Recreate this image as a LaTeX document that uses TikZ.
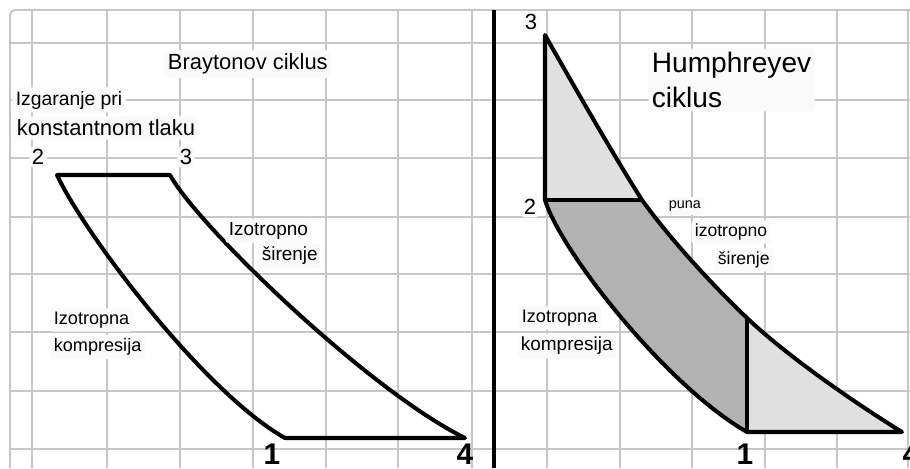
\documentclass[tikz,border=0pt]{standalone}
\usepackage{fontspec}
\setmainfont{Liberation Sans}
\begin{document}
\begin{tikzpicture}[x=0.02cm, y=-0.02cm,
    grid/.style={black!22, line width=1.1pt},
    cyc/.style={black, line width=2.3pt, line join=round},
    lightfill/.style={fill=black!12},
    darkfill/.style={fill=black!30},
    lbl/.style={fill=black!2, rounded corners=2pt, inner sep=2pt, anchor=west},
    pnum/.style={fill=black!2, rounded corners=2pt, inner sep=1.5pt, font=\fontsize{12.5}{14}\selectfont},
    bnum/.style={font=\fontsize{17}{20}\selectfont\bfseries}]
    % --- 画布 ---
    \clip (0,0) rectangle (910,468);

    % --- 网格 ---
    \draw[grid, rounded corners=3pt] (10,468) -- (10,10) -- (910,10);
    \foreach \gx in {32,107,180,253,326,398,472,547,620,692,765,837,908}
        \draw[grid] (\gx,10) -- (\gx,468);
    \foreach \gy in {43,100,158,217,274,332,391,449}
        \draw[grid] (10,\gy) -- (910,\gy);
    % 两图之间的分隔线
    \draw[black, line width=2.4pt] (494,10) -- (494,468);

    % --- Braytonov ciklus ---
    \coordinate (B1) at (285,438);
    \coordinate (B2) at (57,175);
    \coordinate (B3) at (170,175);
    \coordinate (B4) at (465,438);
    \draw[cyc] (B2) -- (B3) .. controls (198,226) and (368,390) .. (B4)
        -- (B1) .. controls (205,393) and (85,235) .. (B2) -- cycle;

    \node[lbl, font=\fontsize{12.5}{15}\selectfont] (brayton) at (164,64) {Braytonov ciklus};
    \node[lbl, font=\fontsize{11}{13}\selectfont] (izgar) at (12,100) {Izgaranje pri};
    \node[lbl, font=\fontsize{12.5}{15}\selectfont] (konst) at (13,128) {konstantnom tlaku};
    \node[pnum] (nB2) at (38,157) {2};
    \node[pnum] (nB3) at (186,157) {3};
    \node[lbl, font=\fontsize{10.8}{13}\selectfont] (izotL) at (225,231) {Izotropno};
    \node[lbl, font=\fontsize{10.8}{13}\selectfont] (sirL) at (258,256) {širenje};
    \node[lbl, font=\fontsize{10.3}{12}\selectfont] (izotpL) at (50,320) {Izotropna};
    \node[lbl, font=\fontsize{10.3}{12}\selectfont] (kompL) at (50,347) {kompresija};
    \node[bnum] (nB1) at (272,454) {1};
    \node[bnum] (nB4) at (465,454) {4};

    % --- Humphreyev ciklus ---
    \coordinate (H1) at (747,432);
    \coordinate (H2) at (545,200);
    \coordinate (H3) at (545,35);
    \coordinate (H4) at (902,432);
    \coordinate (Ha) at (642,200); % 2 的水平线与膨胀线交点
    \coordinate (Hb) at (747,318); % 1 的竖直线与膨胀线交点

    % 填充
    \fill[lightfill] (H3) -- (H2) -- (Ha) .. controls (614,156) and (575,88) .. (H3) -- cycle;
    \fill[darkfill] (H2) -- (Ha) .. controls (671,240) and (711,283.5) .. (Hb)
        -- (H1) .. controls (665,385) and (560,250) .. (H2) -- cycle;
    \fill[lightfill] (Hb) .. controls (787,356) and (855,403) .. (H4) -- (H1) -- cycle;

    % 轮廓
    \draw[cyc] (H3) .. controls (575,88) and (614,156) .. (Ha)
        .. controls (671,240) and (711,283.5) .. (Hb)
        .. controls (787,356) and (855,403) .. (H4)
        -- (H1) .. controls (665,385) and (560,250) .. (H2) -- cycle;
    \draw[cyc] (H2) -- (Ha);
    \draw[cyc] (Hb) -- (H1);

    \node[lbl, font=\fontsize{16}{20}\selectfont, align=left] (humph) at (648,80) {Humphreyev\\ciklus};
    \node[pnum] (nH3) at (531,22) {3};
    \node[pnum] (nH2) at (530,207) {2};
    \node[lbl, font=\fontsize{8.2}{10}\selectfont] (puna) at (665,206) {puna};
    \node[lbl, font=\fontsize{10}{12}\selectfont] (izotR) at (691,232) {izotropno};
    \node[lbl, font=\fontsize{10}{12}\selectfont] (sirR) at (714,260) {širenje};
    \node[lbl, font=\fontsize{10.3}{12}\selectfont] (izotpR) at (518,318) {Izotropna};
    \node[lbl, font=\fontsize{10.8}{13}\selectfont] (kompR) at (517,346) {kompresija};
    \node[bnum] (nH1) at (745,454) {1};
    \node[bnum] (nH4) at (911,454) {4};
\end{tikzpicture}
\end{document}
